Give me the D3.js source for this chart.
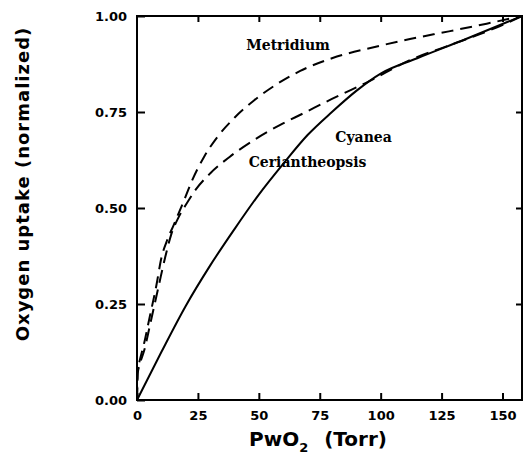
<!DOCTYPE html>
<html>
<head>
<meta charset="utf-8">
<script src="https://cdn.jsdelivr.net/npm/d3@7"></script>
<style>
  body { margin: 0; background: #fff; }
  svg { display: block; }
</style>
</head>
<body>
<svg width="524" height="461"></svg>
<script>
// curve readings, PwO2 (Torr) vs normalized uptake
var cyaneaP = [0, 10, 20, 30, 40, 50, 60, 70, 80, 90, 100, 115, 135, 158];
var cyaneaU = [0, 0.125, 0.245, 0.35, 0.445, 0.535, 0.615, 0.69, 0.75, 0.805, 0.85, 0.89, 0.94, 1.0];

var metridiumP = [0, 0.3, 1, 3, 5, 8, 10, 12, 15, 19, 22.5, 27.5, 33, 40, 48, 58, 67, 80, 98, 112, 128, 143.5, 158];
var metridiumU = [0, 0.08, 0.1, 0.15, 0.21, 0.3, 0.37, 0.41, 0.455, 0.515, 0.57, 0.633, 0.685, 0.735, 0.78, 0.825, 0.857, 0.89, 0.92, 0.94, 0.96, 0.98, 1.0];

var cerianP = [0, 0.3, 1, 3, 5.5, 9, 11.5, 14, 17, 20.5, 24, 30, 38, 48, 58.6, 68.4, 80, 94, 112, 131, 149, 158];
var cerianU = [0, 0.07, 0.09, 0.13, 0.2, 0.3, 0.37, 0.43, 0.475, 0.513, 0.547, 0.59, 0.633, 0.677, 0.716, 0.747, 0.784, 0.826, 0.885, 0.93, 0.974, 1.0];

var xTicks = [0, 25, 50, 75, 100, 125, 150];
var yTicks = [0, 0.25, 0.5, 0.75, 1.0];

var labelNames = ['Metridium', 'Cyanea', 'Ceriantheopsis'];
var labelP = [62, 93, 70];
var labelU = [0.925, 0.685, 0.62];

var svg = d3.select('svg');
var plotL = 137, plotR = 522, plotT = 16, plotB = 400;

var x = d3.scaleLinear().domain([0, 158]).range([plotL, plotR]);
var y = d3.scaleLinear().domain([0, 1]).range([plotB, plotT]);

function pts(ps, us) {
    return ps.map(function(p, i) { return [p, us[i]]; });
}
var series = [
    {pts: pts(cyaneaP, cyaneaU), dash: null},
    {pts: pts(metridiumP, metridiumU), dash: '12,7'},
    {pts: pts(cerianP, cerianU), dash: '13,7'}
];

var line = d3.line()
    .x(function(d) { return x(d[0]); })
    .y(function(d) { return y(d[1]); })
    .curve(d3.curveMonotoneX);

svg.selectAll('path.curve')
    .data(series).enter().append('path')
    .attr('class', 'curve')
    .attr('d', function(d) { return line(d.pts); })
    .attr('fill', 'none')
    .attr('stroke', '#000')
    .attr('stroke-width', 2)
    .attr('stroke-dasharray', function(d) { return d.dash; });

// frame
svg.append('rect')
    .attr('x', plotL).attr('y', plotT)
    .attr('width', plotR - plotL).attr('height', plotB - plotT)
    .attr('fill', 'none').attr('stroke', '#000').attr('stroke-width', 2);

// axes with inward ticks
var font = '"DejaVu Sans", sans-serif';
var xb = svg.append('g').attr('transform', 'translate(0,' + plotB + ')')
    .call(d3.axisBottom(x).tickValues(xTicks).tickSizeInner(-7).tickSizeOuter(0).tickPadding(11)
        .tickFormat(d3.format('d')));
var yl = svg.append('g').attr('transform', 'translate(' + plotL + ',0)')
    .call(d3.axisLeft(y).tickValues(yTicks).tickSizeInner(-8).tickSizeOuter(0).tickPadding(10)
        .tickFormat(d3.format('.2f')));
var xt = svg.append('g').attr('transform', 'translate(0,' + plotT + ')')
    .call(d3.axisTop(x).tickValues(xTicks.slice(1)).tickSizeInner(-6).tickSizeOuter(0).tickFormat(''));
var yr = svg.append('g').attr('transform', 'translate(' + plotR + ',0)')
    .call(d3.axisRight(y).tickValues(yTicks.slice(1, 4)).tickSizeInner(-6).tickSizeOuter(0).tickFormat(''));

[xb, yl, xt, yr].forEach(function(g) {
    g.select('.domain').remove();
    g.selectAll('line').attr('stroke', '#000').attr('stroke-width', 2);
    g.selectAll('text').attr('font-family', font).attr('font-weight', 'bold')
        .attr('font-size', 13).attr('fill', '#000');
});

// axis titles
var xl = svg.append('text')
    .attr('x', 318).attr('y', 446)
    .attr('text-anchor', 'middle')
    .attr('font-family', font).attr('font-weight', 'bold').attr('font-size', 20);
xl.append('tspan').text('PwO');
xl.append('tspan').attr('font-size', 13).attr('dy', 6).text('2');
xl.append('tspan').attr('dy', -6).attr('dx', 16).text('(Torr)');

svg.append('text')
    .attr('transform', 'translate(29,184)rotate(-90)')
    .attr('text-anchor', 'middle')
    .attr('font-family', font).attr('font-weight', 'bold').attr('font-size', 18)
    .attr('letter-spacing', 1)
    .text('Oxygen uptake (normalized)');

// curve labels
svg.selectAll('text.lab')
    .data(labelNames).enter().append('text')
    .attr('class', 'lab')
    .attr('x', function(d, i) { return x(labelP[i]); })
    .attr('y', function(d, i) { return y(labelU[i]); })
    .attr('dy', '0.35em')
    .attr('text-anchor', 'middle')
    .attr('font-family', '"DejaVu Serif", serif')
    .attr('font-weight', 'bold').attr('font-size', 14)
    .text(function(d) { return d; });
</script>
</body>
</html>
